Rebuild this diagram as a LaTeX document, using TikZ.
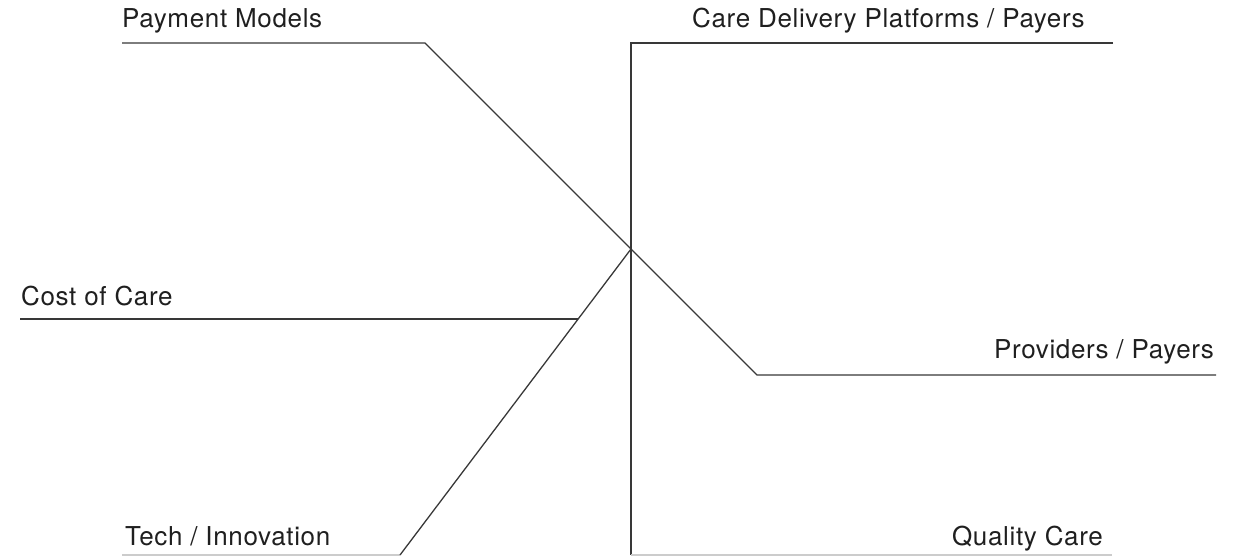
\documentclass[tikz,border=0pt]{standalone}
\usepackage{fontspec}
\setmainfont{TeX Gyre Heros}[LetterSpace=2.5]
\begin{document}
\begin{tikzpicture}[x=1pt,y=-1pt,
  lbl/.style={inner sep=0pt,font=\fontsize{26}{30}\selectfont,text=black!88},
  wire/.style={draw=black!78,line width=1.3pt,line join=miter}]
\useasboundingbox (0,0) rectangle (1238,556);
% labels
\node[lbl,anchor=base west] (pm) at (122,28) {Payment Models};
\node[lbl,anchor=base west] (cd) at (692,28) {Care Delivery Platforms / Payers};
\node[lbl,anchor=base west] (cc) at (21,305) {Cost of Care};
\node[lbl,anchor=base east] (pp) at (1214,358) {Providers / Payers};
\node[lbl,anchor=base west] (ti) at (125,545) {Tech / Innovation};
\node[lbl,anchor=base east] (qc) at (1103,545) {Quality Care};
% bend and end points
\coordinate (hub) at (631,249);
\coordinate (pmA) at (122,43);
\coordinate (pmB) at (425,43);
\coordinate (ppA) at (757,375);
\coordinate (ppB) at (1216,375);
\coordinate (cdB) at (1113,43);
\coordinate (cdA) at (631,43);
\coordinate (qcA) at (631,555);
\coordinate (qcB) at (1112,555);
\coordinate (ccA) at (20,319);
\coordinate (ccB) at (578,319);
\coordinate (tiA) at (122,555);
\coordinate (tiB) at (400,555);
% connectors
\draw[wire] (pmA) -- (pmB) -- (hub) -- (ppA) -- (ppB);
\draw[wire] (cdB) -- (cdA) -- (qcA);
\draw[wire,draw=black!20] (qcA) -- (qcB);
\draw[wire] (ccA) -- (ccB);
\draw[wire,draw=black!20] (tiA) -- (tiB);
\draw[wire] (tiB) -- (hub);
\end{tikzpicture}
\end{document}
